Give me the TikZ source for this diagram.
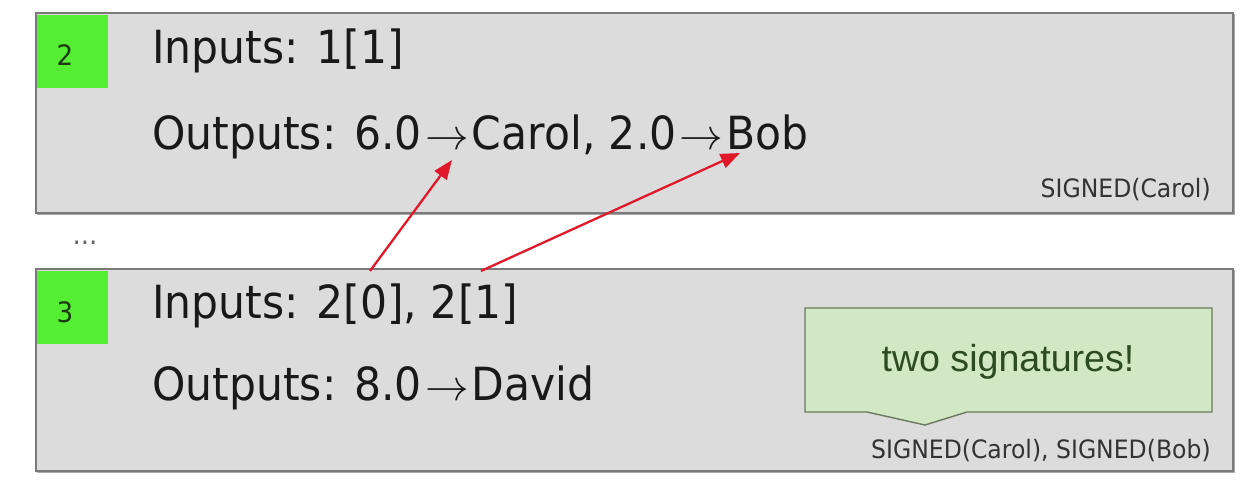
\documentclass[tikz,border=0pt]{standalone}
\usepackage{fontspec}
\setmainfont{DejaVu Sans}
\newfontfamily\txtf[FakeStretch=0.93]{DejaVu Sans}
\newfontfamily\calf{Liberation Sans}
\usetikzlibrary{arrows.meta}
\definecolor{boxfill}{HTML}{DCDCDC}
\definecolor{boxline}{HTML}{7A7A7A}
\definecolor{shadowc}{HTML}{A8A8A8}
\definecolor{tagg}{HTML}{55EE33}
\definecolor{tagtext}{HTML}{1E3A12}
\definecolor{calfill}{HTML}{D2E8C4}
\definecolor{calline}{HTML}{6A7A60}
\definecolor{caltext}{HTML}{2E4A22}
\definecolor{redarrow}{HTML}{E0182A}
\newcommand{\ra}{\kern1.8pt\ensuremath{\rightarrow}\kern1.8pt}
\begin{document}
\begin{tikzpicture}[x=0.02cm,y=-0.02cm,
  txbox/.style={draw=boxline, fill=boxfill, line width=1pt, inner sep=0pt, anchor=north west},
  tagbox/.style={fill=tagg, draw=none, inner sep=0pt, anchor=north west, minimum width=1.42cm, minimum height=1.46cm},
  tagnum/.style={font=\txtf\fontsize{16}{18}\selectfont, text=tagtext, inner sep=0pt},
  mainline/.style={font=\txtf\fontsize{26}{30}\selectfont, text=black!90, inner sep=0pt, anchor=base west},
  signline/.style={font=\txtf\fontsize{14.4}{17}\selectfont, text=black!80, inner sep=0pt, anchor=base east},
  redarr/.style={draw=redarrow, line width=1.3pt, -{Triangle[length=11pt,width=8.5pt]}},
  calshape/.style={fill=calfill, draw=calline, line width=0.8pt}
]
\useasboundingbox (0,0) rectangle (1258,480);
\fill[white] (0,0) rectangle (1258,480);

% box 1
\fill[shadowc] (37,14) rectangle (1235,215);
\node[txbox, minimum width=23.94cm, minimum height=4cm] (b1) at (35,12) {};
\node[tagbox] (t1) at (37,15) {};
\node[tagnum] (n1) at (65,55) {2};
\node[mainline] (in1) at (152,63) {Inputs: 1[1]};
\node[mainline] (out1) at (152,149) {Outputs: 6.0\ra Carol, 2.0\ra Bob};
\node[signline] (s1) at (1211,197) {SIGNED(Carol)};

% dots
\node[font=\txtf\fontsize{16}{18}\selectfont, text=black!60, inner sep=0pt] (dots) at (85,243) {...};

% box 2
\fill[shadowc] (37,270) rectangle (1235,473);
\node[txbox, minimum width=23.94cm, minimum height=4.04cm] (b2) at (35,268) {};
\node[tagbox] (t2) at (37,271) {};
\node[tagnum] (n2) at (65,312) {3};
\node[mainline] (in2) at (152,318) {Inputs: 2[0], 2[1]};
\node[mainline] (out2) at (152,400) {Outputs: 8.0\ra David};
\node[signline] (s2) at (1211,458) {SIGNED(Carol), SIGNED(Bob)};

% callout
\path[calshape] (805,308) -- (1212,308) -- (1212,412) -- (967,412) -- (925,425) -- (867,412) -- (805,412) -- cycle;
\node[font=\calf\fontsize{21.4}{25}\selectfont, text=caltext, inner sep=0pt] (cal) at (1008,362) {two signatures!};

% arrows
\coordinate (src1) at (370,271);
\coordinate (dst1) at (452,160);
\coordinate (src2) at (481,271);
\coordinate (dst2) at (740,153);
\draw[redarr] (src1) -- (dst1);
\draw[redarr] (src2) -- (dst2);
\end{tikzpicture}
\end{document}
